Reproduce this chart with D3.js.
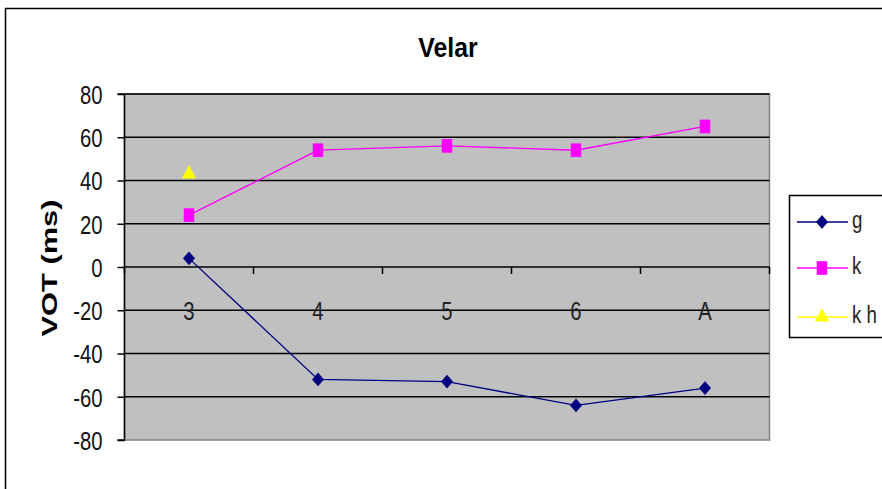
<!DOCTYPE html>
<html><head><meta charset="utf-8">
<script src="https://cdn.jsdelivr.net/npm/d3@7"></script>
<style>body{margin:0;background:#fff}svg{display:block}text{font-family:"Liberation Sans",Arial,sans-serif}</style>
</head><body><svg id="c" width="882" height="489"></svg>
<script>
const categories = ["3","4","5","6","A"];
const gValues = [4, -52, -53, -64, -56];
const kValues = [24, 54, 56, 54, 65];
const khValues = [43, null, null, null, null];
const yTicks = [-80,-60,-40,-20,0,20,40,60,80];
const seriesNames = ["g","k","k h"];

const svg = d3.select("#c");
const L=124.5, R=769.5, T=94, B=440;
const x = d3.scaleBand().domain(categories).range([L,R]);
const y = d3.scaleLinear().domain([-80,80]).range([B,T]);

// outer border
svg.append("rect").attr("x",5.5).attr("y",8.5).attr("width",900).attr("height",500)
  .attr("fill","none").attr("stroke","#000").attr("stroke-width",1.5);

// title
svg.append("text").attr("transform","translate(448,57) scale(0.92,1.05)").attr("text-anchor","middle")
  .attr("font-size",27).attr("font-weight","bold").text("Velar");

// plot area
svg.append("rect").attr("x",L).attr("y",T).attr("width",R-L).attr("height",B-T)
  .attr("fill","#c0c0c0").attr("stroke","#808080").attr("stroke-width",1.5);

// gridlines
svg.append("g").selectAll("line").data(yTicks.filter(d=>d!==-80)).join("line")
  .attr("x1",L).attr("x2",R).attr("y1",d=>y(d)).attr("y2",d=>y(d))
  .attr("stroke","#000").attr("stroke-width",1.5);

// y axis
const ya = svg.append("g").attr("transform",`translate(${L},0)`)
  .call(d3.axisLeft(y).tickValues(yTicks).tickSize(7).tickPadding(6).tickFormat(d=>String(d)));
ya.select(".domain").attr("stroke","#000").attr("stroke-width",1.5).attr("d",`M-7,${T}H0V${B}H-7`);
ya.selectAll(".tick line").attr("stroke","#000").attr("stroke-width",1.5);
ya.selectAll(".tick text").attr("font-size",26).attr("fill","#111")
  .attr("font-family","'Liberation Sans',Arial,sans-serif")
  .attr("transform","scale(0.78,1)").attr("x",-22/0.78).attr("dy","0.36em");

// x axis at 0
const boundaries = categories.map(c=>x(c)).concat([R]);
svg.append("g").selectAll("line").data(boundaries).join("line")
  .attr("x1",d=>d).attr("x2",d=>d).attr("y1",y(0)).attr("y2",y(0)+7)
  .attr("stroke","#000").attr("stroke-width",1.5);
svg.append("g").selectAll("text").data(categories).join("text")
  .attr("transform",d=>`translate(${x(d)+x.bandwidth()/2},320) scale(0.78,1)`)
  .attr("text-anchor","middle").attr("font-size",26).attr("fill","#222").text(d=>d);

// y label
svg.append("text").attr("transform","translate(57,268) rotate(-90) scale(1.4,1)")
  .attr("text-anchor","middle").attr("font-size",22).attr("font-weight","bold").text("VOT (ms)");

const line = d3.line().defined(d=>d.v!==null).x(d=>x(d.c)+x.bandwidth()/2).y(d=>y(d.v));
const mk = arr => categories.map((c,i)=>({c,v:arr[i]}));

const series = [
  {name:seriesNames[0], data:mk(gValues), color:"#000080", sym:d3.symbolSquare, size:72, tf:"scale(1,1.15) rotate(45)"},
  {name:seriesNames[1], data:mk(kValues), color:"#ff00ff", sym:d3.symbolSquare, size:110, tf:"scale(1,1.3)"},
  {name:seriesNames[2], data:mk(khValues), color:"#ffff00", sym:d3.symbolTriangle, size:80, tf:"scale(1.05,1.15)"}
];
series.forEach(s=>{
  svg.append("path").datum(s.data).attr("d",line).attr("fill","none").attr("stroke",s.color).attr("stroke-width",1.3);
  svg.append("g").selectAll("path").data(s.data.filter(d=>d.v!==null)).join("path")
    .attr("transform",d=>`translate(${x(d.c)+x.bandwidth()/2},${y(d.v)}) ${s.tf}`)
    .attr("d",d3.symbol().type(s.sym).size(s.size)).attr("fill",s.color);
});

// legend
svg.append("rect").attr("x",789.5).attr("y",195.5).attr("width",120).attr("height",142)
  .attr("fill","#fff").attr("stroke","#000").attr("stroke-width",1.5);
const ly = [222,268,317];
series.forEach((s,i)=>{
  const g = svg.append("g").attr("transform",`translate(0,${ly[i]})`);
  g.append("line").attr("x1",797).attr("x2",848).attr("stroke",s.color).attr("stroke-width",1.5);
  g.append("path").attr("transform",`translate(822,0) ${s.tf}`).attr("d",d3.symbol().type(s.sym).size(s.size)).attr("fill",s.color);
  g.append("text").attr("transform","translate(852,6) scale(0.85,1.1)").attr("font-size",22).attr("fill","#222").text(s.name);
});
</script></body></html>
